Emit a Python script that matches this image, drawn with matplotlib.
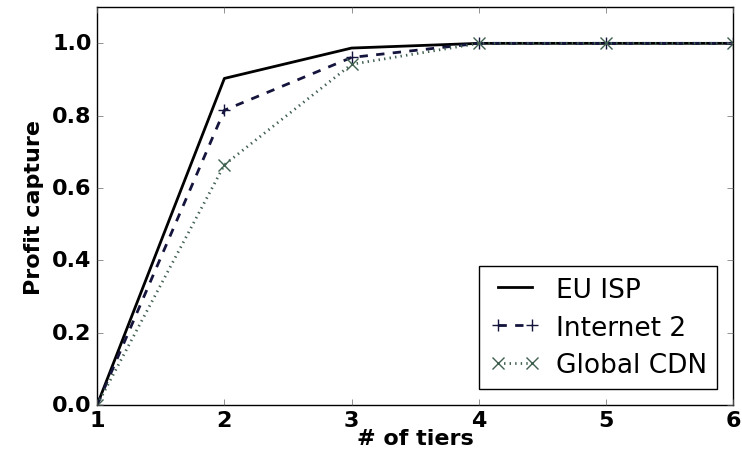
import matplotlib
matplotlib.use('Agg')
from matplotlib import pyplot as plt

tiers = [1, 2, 3, 4, 5, 6]
eu_isp = [0.0, 0.903, 0.987, 1.0, 1.0, 1.0]
internet2 = [0.0, 0.815, 0.961, 1.0, 1.0, 1.0]
global_cdn = [0.0, 0.664, 0.942, 1.0, 1.0, 1.0]

plt.style.use('classic')
plt.rcParams['font.family'] = 'DejaVu Sans'

fig = plt.figure(figsize=(7.42, 4.56), dpi=100, facecolor='white')
ax = fig.add_axes([0.131, 0.110, 0.857, 0.872])

ax.plot(tiers, eu_isp, color='black', lw=2, label="EU ISP")
ax.plot(tiers, internet2, color='#14143c', lw=2, ls='--', marker='+',
        ms=8, mew=1, label="Internet 2")
ax.plot(tiers, global_cdn, color='#3f5f4f', lw=2, ls=':', marker='x',
        ms=8, mew=1, label="Global CDN")

ax.set_xlim(1, 6)
ax.set_ylim(0, 1.1)
ax.set_yticks([0.0, 0.2, 0.4, 0.6, 0.8, 1.0])
ax.set_xticks(tiers)
ax.set_xlabel("# of tiers", fontsize=16, fontweight='bold', labelpad=-2)
ax.set_ylabel("Profit capture", fontsize=16, fontweight='bold', labelpad=6)
for lbl in ax.get_xticklabels() + ax.get_yticklabels():
    lbl.set_fontweight('bold')
    lbl.set_fontsize(16)
ax.tick_params(color='#666666')

ax.legend(loc='lower right', fontsize=19, frameon=True, fancybox=False,
          handlelength=1.9, handletextpad=0.6, labelspacing=0.45,
          numpoints=2, borderaxespad=0.6)

fig.savefig('out.png', dpi=100, facecolor='white')
